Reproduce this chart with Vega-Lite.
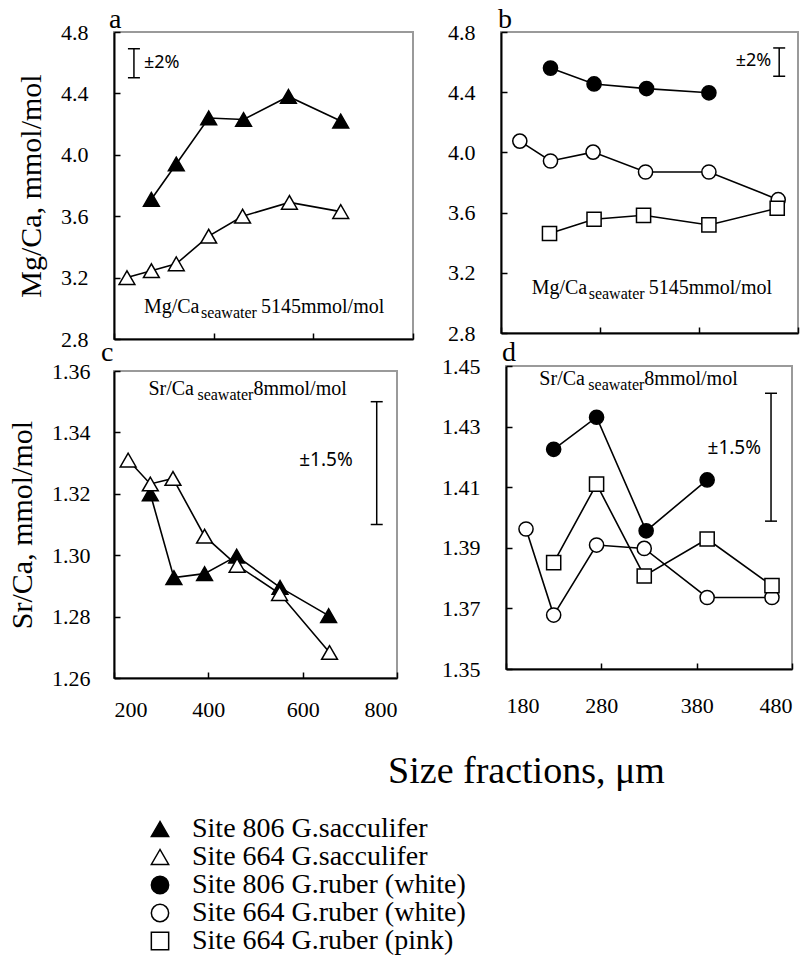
{
  "$schema": "https://vega.github.io/schema/vega-lite/v6.json",
  "background": "white",
  "padding": {"left": 6, "top": 5, "right": 0, "bottom": 0},
  "datasets": {
    "obs": [
      {"p": "a", "s": "Site 806 G.sacculifer", "x": 275, "y": 3.71},
      {"p": "a", "s": "Site 806 G.sacculifer", "x": 325, "y": 3.94},
      {"p": "a", "s": "Site 806 G.sacculifer", "x": 390, "y": 4.24},
      {"p": "a", "s": "Site 806 G.sacculifer", "x": 460, "y": 4.23},
      {"p": "a", "s": "Site 806 G.sacculifer", "x": 550, "y": 4.38},
      {"p": "a", "s": "Site 806 G.sacculifer", "x": 655, "y": 4.22},
      {"p": "a", "s": "Site 664 G.sacculifer", "x": 226, "y": 3.2},
      {"p": "a", "s": "Site 664 G.sacculifer", "x": 275, "y": 3.245},
      {"p": "a", "s": "Site 664 G.sacculifer", "x": 325, "y": 3.29},
      {"p": "a", "s": "Site 664 G.sacculifer", "x": 390, "y": 3.47},
      {"p": "a", "s": "Site 664 G.sacculifer", "x": 458, "y": 3.6},
      {"p": "a", "s": "Site 664 G.sacculifer", "x": 552, "y": 3.69},
      {"p": "a", "s": "Site 664 G.sacculifer", "x": 655, "y": 3.63},
      {"p": "b", "s": "Site 806 G.ruber (white)", "x": 230, "y": 4.56},
      {"p": "b", "s": "Site 806 G.ruber (white)", "x": 274, "y": 4.455},
      {"p": "b", "s": "Site 806 G.ruber (white)", "x": 327, "y": 4.424},
      {"p": "b", "s": "Site 806 G.ruber (white)", "x": 390, "y": 4.396},
      {"p": "b", "s": "Site 664 G.ruber (white)", "x": 199, "y": 4.075},
      {"p": "b", "s": "Site 664 G.ruber (white)", "x": 230, "y": 3.943},
      {"p": "b", "s": "Site 664 G.ruber (white)", "x": 273, "y": 4.002},
      {"p": "b", "s": "Site 664 G.ruber (white)", "x": 326, "y": 3.87},
      {"p": "b", "s": "Site 664 G.ruber (white)", "x": 390, "y": 3.87},
      {"p": "b", "s": "Site 664 G.ruber (white)", "x": 460, "y": 3.686},
      {"p": "b", "s": "Site 664 G.ruber (pink)", "x": 229, "y": 3.461},
      {"p": "b", "s": "Site 664 G.ruber (pink)", "x": 274, "y": 3.556},
      {"p": "b", "s": "Site 664 G.ruber (pink)", "x": 324, "y": 3.582},
      {"p": "b", "s": "Site 664 G.ruber (pink)", "x": 390, "y": 3.518},
      {"p": "b", "s": "Site 664 G.ruber (pink)", "x": 459, "y": 3.629},
      {"p": "c", "s": "Site 806 G.sacculifer", "x": 277, "y": 1.32},
      {"p": "c", "s": "Site 806 G.sacculifer", "x": 327, "y": 1.2927},
      {"p": "c", "s": "Site 806 G.sacculifer", "x": 392, "y": 1.294},
      {"p": "c", "s": "Site 806 G.sacculifer", "x": 460, "y": 1.2997},
      {"p": "c", "s": "Site 806 G.sacculifer", "x": 552, "y": 1.2895},
      {"p": "c", "s": "Site 806 G.sacculifer", "x": 655, "y": 1.2803},
      {"p": "c", "s": "Site 664 G.sacculifer", "x": 230, "y": 1.331},
      {"p": "c", "s": "Site 664 G.sacculifer", "x": 277, "y": 1.3232},
      {"p": "c", "s": "Site 664 G.sacculifer", "x": 325, "y": 1.325},
      {"p": "c", "s": "Site 664 G.sacculifer", "x": 392, "y": 1.3062},
      {"p": "c", "s": "Site 664 G.sacculifer", "x": 461, "y": 1.2967},
      {"p": "c", "s": "Site 664 G.sacculifer", "x": 551, "y": 1.2875},
      {"p": "c", "s": "Site 664 G.sacculifer", "x": 657, "y": 1.2683},
      {"p": "d", "s": "Site 806 G.ruber (white)", "x": 230, "y": 1.4225},
      {"p": "d", "s": "Site 806 G.ruber (white)", "x": 275, "y": 1.4331},
      {"p": "d", "s": "Site 806 G.ruber (white)", "x": 327, "y": 1.3956},
      {"p": "d", "s": "Site 806 G.ruber (white)", "x": 391, "y": 1.4124},
      {"p": "d", "s": "Site 664 G.ruber (white)", "x": 201, "y": 1.3962},
      {"p": "d", "s": "Site 664 G.ruber (white)", "x": 230, "y": 1.3678},
      {"p": "d", "s": "Site 664 G.ruber (white)", "x": 275, "y": 1.3909},
      {"p": "d", "s": "Site 664 G.ruber (white)", "x": 325, "y": 1.3898},
      {"p": "d", "s": "Site 664 G.ruber (white)", "x": 391, "y": 1.3736},
      {"p": "d", "s": "Site 664 G.ruber (white)", "x": 459, "y": 1.3736},
      {"p": "d", "s": "Site 664 G.ruber (pink)", "x": 230, "y": 1.3851},
      {"p": "d", "s": "Site 664 G.ruber (pink)", "x": 275, "y": 1.411},
      {"p": "d", "s": "Site 664 G.ruber (pink)", "x": 325, "y": 1.3807},
      {"p": "d", "s": "Site 664 G.ruber (pink)", "x": 391, "y": 1.3929},
      {"p": "d", "s": "Site 664 G.ruber (pink)", "x": 459, "y": 1.3775}
    ],
    "precision": [
      {"p": "a", "x": 240, "lo": 4.502, "hi": 4.691, "ly": 4.597, "label": "±2%"},
      {"p": "b", "x": 461, "lo": 4.506, "hi": 4.694, "ly": 4.605, "label": "±2%"},
      {"p": "c", "x": 757, "lo": 1.31, "hi": 1.35, "ly": 1.331, "label": "±1.5%"},
      {"p": "d", "x": 458, "lo": 1.3988, "hi": 1.441, "ly": 1.4228, "label": "±1.5%"}
    ],
    "seawater": [
      {"p": "a", "x": 260, "y": 2.97, "el": "Mg/Ca", "val": "5145mmol/mol"},
      {"p": "b", "x": 211, "y": 3.058, "el": "Mg/Ca", "val": "5145mmol/mol"},
      {"p": "c", "x": 273, "y": 1.3522, "el": "Sr/Ca", "val": "8mmol/mol"},
      {"p": "d", "x": 215, "y": 1.4438, "el": "Sr/Ca", "val": "8mmol/mol"}
    ]
  },
  "config": {
    "font": "Liberation Serif",
    "view": {"stroke": "#9a9a9a", "strokeWidth": 2},
    "axis": {
      "grid": false,
      "labelFont": "Liberation Serif",
      "labelFontSize": 22,
      "labelColor": "black",
      "domainColor": "black",
      "domainWidth": 2,
      "tickColor": "black",
      "tickWidth": 1.5,
      "tickSize": -6,
      "titleFont": "Liberation Serif",
      "titleFontSize": 30,
      "titleFontWeight": "normal",
      "titleColor": "black"
    },
    "title": {"font": "Liberation Serif", "fontSize": 28, "fontWeight": "normal", "color": "black", "anchor": "start", "frame": "group", "offset": 2},
    "legend": {
      "orient": "none",
      "legendX": 32,
      "legendY": 783,
      "direction": "vertical",
      "padding": 0,
      "labelFont": "Liberation Serif",
      "labelFontSize": 28,
      "labelColor": "black",
      "labelLimit": 0,
      "labelOffset": 18,
      "symbolSize": 300,
      "symbolStrokeWidth": 1.5,
      "rowPadding": 0
    }
  },
  "columns": 2,
  "align": "none",
  "spacing": {"row": -13, "column": -29},
  "concat": [
    {
      "width": 299,
      "height": 307,
      "title": {"text": "a", "dx": -5, "dy": 15},
      "layer": [
        {
          "data": {"name": "obs"},
          "transform": [{"filter": "datum.p === 'a'"}],
          "mark": {"type": "line", "color": "black", "strokeWidth": 1.6},
          "encoding": {
            "x": {"field": "x", "type": "quantitative", "scale": {"domain": [200, 800], "nice": false}, "axis": {"values": [200, 400, 600, 800], "labels": false, "title": null}},
            "y": {"field": "y", "type": "quantitative", "scale": {"domain": [2.8, 4.8], "nice": false, "zero": false}, "axis": {"values": [2.8, 3.2, 3.6, 4.0, 4.4, 4.8], "format": ".1f", "labelFont": "Liberation Serif", "labelPadding": 32, "title": "Mg/Ca, mmol/mol", "titlePadding": 14}},
            "detail": {"field": "s"}
          }
        },
        {
          "data": {"name": "obs"},
          "transform": [{"filter": "datum.p === 'a'"}],
          "mark": {"type": "point", "filled": true, "strokeWidth": 1.5, "size": 250, "opacity": 1},
          "encoding": {
            "x": {"field": "x", "type": "quantitative"},
            "y": {"field": "y", "type": "quantitative"},
            "shape": {"field": "s", "type": "nominal", "scale": {"domain": ["Site 806 G.sacculifer", "Site 664 G.sacculifer", "Site 806 G.ruber (white)", "Site 664 G.ruber (white)", "Site 664 G.ruber (pink)"], "range": ["triangle-up", "triangle-up", "circle", "circle", "square"]}, "legend": {"title": null, "labelFont": "Liberation Serif", "labelFontSize": 28}},
            "fill": {"field": "s", "type": "nominal", "scale": {"domain": ["Site 806 G.sacculifer", "Site 664 G.sacculifer", "Site 806 G.ruber (white)", "Site 664 G.ruber (white)", "Site 664 G.ruber (pink)"], "range": ["black", "white", "black", "white", "white"]}, "legend": {"title": null, "labelFont": "Liberation Serif", "labelFontSize": 28}},
            "stroke": {"field": "s", "type": "nominal", "scale": {"domain": ["Site 806 G.sacculifer", "Site 664 G.sacculifer", "Site 806 G.ruber (white)", "Site 664 G.ruber (white)", "Site 664 G.ruber (pink)"], "range": ["black", "black", "black", "black", "black"]}, "legend": {"title": null, "labelFont": "Liberation Serif", "labelFontSize": 28}}
          }
        },
        {
          "data": {"name": "precision"},
          "transform": [{"filter": "datum.p === 'a'"}],
          "layer": [
            {"mark": {"type": "rule", "color": "black", "strokeWidth": 1.5}, "encoding": {"x": {"field": "x", "type": "quantitative"}, "y": {"field": "lo", "type": "quantitative"}, "y2": {"field": "hi"}}},
            {"mark": {"type": "tick", "orient": "horizontal", "color": "black", "size": 12, "thickness": 1.5, "opacity": 1}, "encoding": {"x": {"field": "x", "type": "quantitative"}, "y": {"field": "lo", "type": "quantitative"}}},
            {"mark": {"type": "tick", "orient": "horizontal", "color": "black", "size": 12, "thickness": 1.5, "opacity": 1}, "encoding": {"x": {"field": "x", "type": "quantitative"}, "y": {"field": "hi", "type": "quantitative"}}},
            {"mark": {"type": "text", "font": "Noto Sans", "fontSize": 18, "align": "left", "baseline": "middle", "dx": 10, "color": "black"}, "encoding": {"x": {"field": "x", "type": "quantitative"}, "y": {"field": "ly", "type": "quantitative"}, "text": {"field": "label"}}}
          ]
        },
        {
          "data": {"name": "seawater"},
          "transform": [{"filter": "datum.p === 'a'"}],
          "encoding": {"x": {"field": "x", "type": "quantitative"}, "y": {"field": "y", "type": "quantitative"}},
          "layer": [
            {"mark": {"type": "text", "fontSize": 20, "align": "left", "baseline": "alphabetic", "color": "black"}, "encoding": {"text": {"field": "el"}}},
            {"mark": {"type": "text", "fontSize": 16, "align": "left", "baseline": "alphabetic", "dx": 57, "dy": 5, "color": "black"}, "encoding": {"text": {"value": "seawater"}}},
            {"mark": {"type": "text", "fontSize": 20, "align": "left", "baseline": "alphabetic", "dx": 117, "color": "black"}, "encoding": {"text": {"field": "val"}}}
          ]
        }
      ]
    },
    {
      "width": 297,
      "height": 301,
      "title": {"text": "b", "dx": -3, "dy": 15},
      "layer": [
        {
          "data": {"name": "obs"},
          "transform": [{"filter": "datum.p === 'b'"}],
          "mark": {"type": "line", "color": "black", "strokeWidth": 1.6},
          "encoding": {
            "x": {"field": "x", "type": "quantitative", "scale": {"domain": [180, 480], "nice": false, "zero": false}, "axis": {"values": [180, 280, 380, 480], "labels": false, "title": null}},
            "y": {"field": "y", "type": "quantitative", "scale": {"domain": [2.8, 4.8], "nice": false, "zero": false}, "axis": {"values": [2.8, 3.2, 3.6, 4.0, 4.4, 4.8], "format": ".1f", "labelFont": "Liberation Serif", "labelPadding": 32, "minExtent": 114, "title": null}},
            "detail": {"field": "s"}
          }
        },
        {
          "data": {"name": "obs"},
          "transform": [{"filter": "datum.p === 'b'"}],
          "mark": {"type": "point", "filled": true, "strokeWidth": 1.5, "size": 200, "opacity": 1},
          "encoding": {
            "x": {"field": "x", "type": "quantitative"},
            "y": {"field": "y", "type": "quantitative"},
            "shape": {"field": "s", "type": "nominal", "scale": {"domain": ["Site 806 G.sacculifer", "Site 664 G.sacculifer", "Site 806 G.ruber (white)", "Site 664 G.ruber (white)", "Site 664 G.ruber (pink)"], "range": ["triangle-up", "triangle-up", "circle", "circle", "square"]}, "legend": {"title": null, "labelFont": "Liberation Serif", "labelFontSize": 28}},
            "fill": {"field": "s", "type": "nominal", "scale": {"domain": ["Site 806 G.sacculifer", "Site 664 G.sacculifer", "Site 806 G.ruber (white)", "Site 664 G.ruber (white)", "Site 664 G.ruber (pink)"], "range": ["black", "white", "black", "white", "white"]}, "legend": {"title": null, "labelFont": "Liberation Serif", "labelFontSize": 28}},
            "stroke": {"field": "s", "type": "nominal", "scale": {"domain": ["Site 806 G.sacculifer", "Site 664 G.sacculifer", "Site 806 G.ruber (white)", "Site 664 G.ruber (white)", "Site 664 G.ruber (pink)"], "range": ["black", "black", "black", "black", "black"]}, "legend": {"title": null, "labelFont": "Liberation Serif", "labelFontSize": 28}}
          }
        },
        {
          "data": {"name": "precision"},
          "transform": [{"filter": "datum.p === 'b'"}],
          "layer": [
            {"mark": {"type": "rule", "color": "black", "strokeWidth": 1.5}, "encoding": {"x": {"field": "x", "type": "quantitative"}, "y": {"field": "lo", "type": "quantitative"}, "y2": {"field": "hi"}}},
            {"mark": {"type": "tick", "orient": "horizontal", "color": "black", "size": 12, "thickness": 1.5, "opacity": 1}, "encoding": {"x": {"field": "x", "type": "quantitative"}, "y": {"field": "lo", "type": "quantitative"}}},
            {"mark": {"type": "tick", "orient": "horizontal", "color": "black", "size": 12, "thickness": 1.5, "opacity": 1}, "encoding": {"x": {"field": "x", "type": "quantitative"}, "y": {"field": "hi", "type": "quantitative"}}},
            {"mark": {"type": "text", "font": "Noto Sans", "fontSize": 18, "align": "right", "baseline": "middle", "dx": -8, "color": "black"}, "encoding": {"x": {"field": "x", "type": "quantitative"}, "y": {"field": "ly", "type": "quantitative"}, "text": {"field": "label"}}}
          ]
        },
        {
          "data": {"name": "seawater"},
          "transform": [{"filter": "datum.p === 'b'"}],
          "encoding": {"x": {"field": "x", "type": "quantitative"}, "y": {"field": "y", "type": "quantitative"}},
          "layer": [
            {"mark": {"type": "text", "fontSize": 20, "align": "left", "baseline": "alphabetic", "color": "black"}, "encoding": {"text": {"field": "el"}}},
            {"mark": {"type": "text", "fontSize": 16, "align": "left", "baseline": "alphabetic", "dx": 57, "dy": 5, "color": "black"}, "encoding": {"text": {"value": "seawater"}}},
            {"mark": {"type": "text", "fontSize": 20, "align": "left", "baseline": "alphabetic", "dx": 117, "color": "black"}, "encoding": {"text": {"field": "val"}}}
          ]
        }
      ]
    },
    {
      "width": 283,
      "height": 307,
      "title": {"text": "c", "dx": -13, "dy": 9},
      "layer": [
        {
          "data": {"name": "obs"},
          "transform": [{"filter": "datum.p === 'c'"}],
          "mark": {"type": "line", "color": "black", "strokeWidth": 1.6},
          "encoding": {
            "x": {"field": "x", "type": "quantitative", "scale": {"domain": [200, 800], "nice": false}, "axis": {"values": [200, 400, 600, 800], "labelFont": "Liberation Serif", "labelPadding": 27, "title": null}},
            "y": {"field": "y", "type": "quantitative", "scale": {"domain": [1.26, 1.36], "nice": false, "zero": false}, "axis": {"values": [1.26, 1.28, 1.3, 1.32, 1.34, 1.36], "format": ".2f", "labelFont": "Liberation Serif", "labelPadding": 30, "title": "Sr/Ca, mmol/mol", "titlePadding": 14}},
            "detail": {"field": "s"}
          }
        },
        {
          "data": {"name": "obs"},
          "transform": [{"filter": "datum.p === 'c'"}],
          "mark": {"type": "point", "filled": true, "strokeWidth": 1.5, "size": 250, "opacity": 1},
          "encoding": {
            "x": {"field": "x", "type": "quantitative"},
            "y": {"field": "y", "type": "quantitative"},
            "shape": {"field": "s", "type": "nominal", "scale": {"domain": ["Site 806 G.sacculifer", "Site 664 G.sacculifer", "Site 806 G.ruber (white)", "Site 664 G.ruber (white)", "Site 664 G.ruber (pink)"], "range": ["triangle-up", "triangle-up", "circle", "circle", "square"]}, "legend": {"title": null, "labelFont": "Liberation Serif", "labelFontSize": 28}},
            "fill": {"field": "s", "type": "nominal", "scale": {"domain": ["Site 806 G.sacculifer", "Site 664 G.sacculifer", "Site 806 G.ruber (white)", "Site 664 G.ruber (white)", "Site 664 G.ruber (pink)"], "range": ["black", "white", "black", "white", "white"]}, "legend": {"title": null, "labelFont": "Liberation Serif", "labelFontSize": 28}},
            "stroke": {"field": "s", "type": "nominal", "scale": {"domain": ["Site 806 G.sacculifer", "Site 664 G.sacculifer", "Site 806 G.ruber (white)", "Site 664 G.ruber (white)", "Site 664 G.ruber (pink)"], "range": ["black", "black", "black", "black", "black"]}, "legend": {"title": null, "labelFont": "Liberation Serif", "labelFontSize": 28}}
          }
        },
        {
          "data": {"name": "precision"},
          "transform": [{"filter": "datum.p === 'c'"}],
          "layer": [
            {"mark": {"type": "rule", "color": "black", "strokeWidth": 1.5}, "encoding": {"x": {"field": "x", "type": "quantitative"}, "y": {"field": "lo", "type": "quantitative"}, "y2": {"field": "hi"}}},
            {"mark": {"type": "tick", "orient": "horizontal", "color": "black", "size": 12, "thickness": 1.5, "opacity": 1}, "encoding": {"x": {"field": "x", "type": "quantitative"}, "y": {"field": "lo", "type": "quantitative"}}},
            {"mark": {"type": "tick", "orient": "horizontal", "color": "black", "size": 12, "thickness": 1.5, "opacity": 1}, "encoding": {"x": {"field": "x", "type": "quantitative"}, "y": {"field": "hi", "type": "quantitative"}}},
            {"mark": {"type": "text", "font": "Noto Sans", "fontSize": 19, "align": "right", "baseline": "middle", "dx": -24, "color": "black"}, "encoding": {"x": {"field": "x", "type": "quantitative"}, "y": {"field": "ly", "type": "quantitative"}, "text": {"field": "label"}}}
          ]
        },
        {
          "data": {"name": "seawater"},
          "transform": [{"filter": "datum.p === 'c'"}],
          "encoding": {"x": {"field": "x", "type": "quantitative"}, "y": {"field": "y", "type": "quantitative"}},
          "layer": [
            {"mark": {"type": "text", "fontSize": 20, "align": "left", "baseline": "alphabetic", "color": "black"}, "encoding": {"text": {"field": "el"}}},
            {"mark": {"type": "text", "fontSize": 16, "align": "left", "baseline": "alphabetic", "dx": 49, "dy": 5, "color": "black"}, "encoding": {"text": {"value": "seawater"}}},
            {"mark": {"type": "text", "fontSize": 20, "align": "left", "baseline": "alphabetic", "dx": 105, "color": "black"}, "encoding": {"text": {"field": "val"}}}
          ]
        }
      ]
    },
    {
      "width": 286,
      "height": 303,
      "title": {"text": "d", "dx": -4, "dy": 14},
      "layer": [
        {
          "data": {"name": "obs"},
          "transform": [{"filter": "datum.p === 'd'"}],
          "mark": {"type": "line", "color": "black", "strokeWidth": 1.6},
          "encoding": {
            "x": {"field": "x", "type": "quantitative", "scale": {"domain": [180, 480], "nice": false, "zero": false}, "axis": {"values": [180, 280, 380, 480], "labelFont": "Liberation Serif", "labelPadding": 32, "title": "Size fractions, μm", "titleFontSize": 38, "titleX": 20, "titleY": 113, "titleAlign": "center", "titleBaseline": "alphabetic"}},
            "y": {"field": "y", "type": "quantitative", "scale": {"domain": [1.35, 1.45], "nice": false, "zero": false}, "axis": {"values": [1.35, 1.37, 1.39, 1.41, 1.43, 1.45], "format": ".2f", "labelFont": "Liberation Serif", "labelPadding": 32, "title": null}},
            "detail": {"field": "s"}
          }
        },
        {
          "data": {"name": "obs"},
          "transform": [{"filter": "datum.p === 'd'"}],
          "mark": {"type": "point", "filled": true, "strokeWidth": 1.5, "size": 200, "opacity": 1},
          "encoding": {
            "x": {"field": "x", "type": "quantitative"},
            "y": {"field": "y", "type": "quantitative"},
            "shape": {"field": "s", "type": "nominal", "scale": {"domain": ["Site 806 G.sacculifer", "Site 664 G.sacculifer", "Site 806 G.ruber (white)", "Site 664 G.ruber (white)", "Site 664 G.ruber (pink)"], "range": ["triangle-up", "triangle-up", "circle", "circle", "square"]}, "legend": {"title": null, "labelFont": "Liberation Serif", "labelFontSize": 28}},
            "fill": {"field": "s", "type": "nominal", "scale": {"domain": ["Site 806 G.sacculifer", "Site 664 G.sacculifer", "Site 806 G.ruber (white)", "Site 664 G.ruber (white)", "Site 664 G.ruber (pink)"], "range": ["black", "white", "black", "white", "white"]}, "legend": {"title": null, "labelFont": "Liberation Serif", "labelFontSize": 28}},
            "stroke": {"field": "s", "type": "nominal", "scale": {"domain": ["Site 806 G.sacculifer", "Site 664 G.sacculifer", "Site 806 G.ruber (white)", "Site 664 G.ruber (white)", "Site 664 G.ruber (pink)"], "range": ["black", "black", "black", "black", "black"]}, "legend": {"title": null, "labelFont": "Liberation Serif", "labelFontSize": 28}}
          }
        },
        {
          "data": {"name": "precision"},
          "transform": [{"filter": "datum.p === 'd'"}],
          "layer": [
            {"mark": {"type": "rule", "color": "black", "strokeWidth": 1.5}, "encoding": {"x": {"field": "x", "type": "quantitative"}, "y": {"field": "lo", "type": "quantitative"}, "y2": {"field": "hi"}}},
            {"mark": {"type": "tick", "orient": "horizontal", "color": "black", "size": 12, "thickness": 1.5, "opacity": 1}, "encoding": {"x": {"field": "x", "type": "quantitative"}, "y": {"field": "lo", "type": "quantitative"}}},
            {"mark": {"type": "tick", "orient": "horizontal", "color": "black", "size": 12, "thickness": 1.5, "opacity": 1}, "encoding": {"x": {"field": "x", "type": "quantitative"}, "y": {"field": "hi", "type": "quantitative"}}},
            {"mark": {"type": "text", "font": "Noto Sans", "fontSize": 19, "align": "right", "baseline": "middle", "dx": -10, "color": "black"}, "encoding": {"x": {"field": "x", "type": "quantitative"}, "y": {"field": "ly", "type": "quantitative"}, "text": {"field": "label"}}}
          ]
        },
        {
          "data": {"name": "seawater"},
          "transform": [{"filter": "datum.p === 'd'"}],
          "encoding": {"x": {"field": "x", "type": "quantitative"}, "y": {"field": "y", "type": "quantitative"}},
          "layer": [
            {"mark": {"type": "text", "fontSize": 20, "align": "left", "baseline": "alphabetic", "color": "black"}, "encoding": {"text": {"field": "el"}}},
            {"mark": {"type": "text", "fontSize": 16, "align": "left", "baseline": "alphabetic", "dx": 49, "dy": 5, "color": "black"}, "encoding": {"text": {"value": "seawater"}}},
            {"mark": {"type": "text", "fontSize": 20, "align": "left", "baseline": "alphabetic", "dx": 105, "color": "black"}, "encoding": {"text": {"field": "val"}}}
          ]
        }
      ]
    }
  ]
}
